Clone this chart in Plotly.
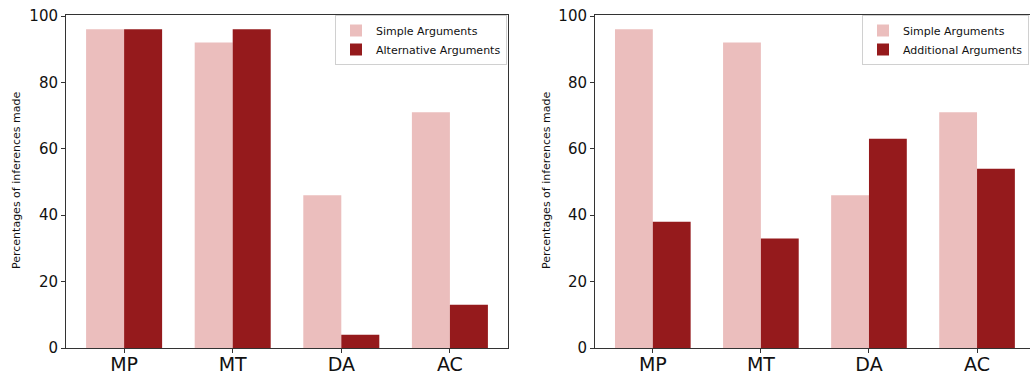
import plotly.graph_objects as go

categories = ["MP", "MT", "DA", "AC"]
simple_left = [96, 92, 46, 71]
alternative = [96, 96, 4, 13]
simple_right = [96, 92, 46, 71]
additional = [38, 33, 63, 54]
y_ticks = [0, 20, 40, 60, 80, 100]

PINK = "#EBBEBD"
DARK = "#951A1C"
W, H = 1030, 376

def px_x(p):
    return p / W

def px_y(p):
    return 1 - p / H

fig = go.Figure()
fig.add_trace(go.Bar(x=categories, y=simple_left, name="Simple Arguments", marker_color=PINK,
                     marker_line_width=0, xaxis="x", yaxis="y", legend="legend"))
fig.add_trace(go.Bar(x=categories, y=alternative, name="Alternative Arguments", marker_color=DARK,
                     marker_line_width=0, xaxis="x", yaxis="y", legend="legend"))
fig.add_trace(go.Bar(x=categories, y=simple_right, name="Simple Arguments", marker_color=PINK,
                     marker_line_width=0, xaxis="x2", yaxis="y2", legend="legend2"))
fig.add_trace(go.Bar(x=categories, y=additional, name="Additional Arguments", marker_color=DARK,
                     marker_line_width=0, xaxis="x2", yaxis="y2", legend="legend2"))

font = "DejaVu Sans"
xcommon = dict(type="category", showgrid=False, zeroline=False, showline=True, linecolor="#333",
               linewidth=1, ticks="outside", ticklen=4, tickcolor="#333", automargin=False,
               ticklabelstandoff=-5,
               tickfont=dict(family=font, size=19, color="#111"))
ycommon = dict(range=[0, 100.3], tickvals=y_ticks, showgrid=False, zeroline=False, showline=True,
               linecolor="#333", linewidth=1, ticks="outside", ticklen=4, tickcolor="#333", automargin=False,
               tickfont=dict(family=font, size=15, color="#111"))

legend_common = dict(xanchor="right", yanchor="top", bgcolor="rgba(255,255,255,0.8)",
                     bordercolor="#d0d0d0", borderwidth=1, tracegroupgap=0, itemwidth=30,
                     font=dict(family=font, size=11, color="#111"))

fig.update_layout(
    width=W, height=H, margin=dict(l=0, r=0, t=0, b=0, pad=0, autoexpand=False),
    paper_bgcolor="white", plot_bgcolor="white",
    barmode="group", bargap=0.3, bargroupgap=0,
    xaxis=dict(**xcommon, domain=[px_x(66), px_x(508)], range=[-0.535, 3.535], mirror=True, anchor="y"),
    yaxis=dict(**ycommon, domain=[px_y(348), px_y(15)], mirror=True, anchor="x"),
    xaxis2=dict(**xcommon, domain=[px_x(595), 1.0], range=[-0.535, 3.49], mirror=True, anchor="y2"),
    yaxis2=dict(**ycommon, domain=[px_y(348), px_y(15)], mirror=False, anchor="x2"),
    legend=dict(x=px_x(507), y=px_y(15), **legend_common),
    legend2=dict(x=px_x(1029), y=px_y(15), **legend_common),
    annotations=[
        dict(text="Percentages of inferences made", x=px_x(16), y=px_y(181), xref="paper", yref="paper",
             xanchor="center", yanchor="middle",
             textangle=-90, showarrow=False, font=dict(family=font, size=11, color="#111")),
        dict(text="Percentages of inferences made", x=px_x(546), y=px_y(181), xref="paper", yref="paper",
             xanchor="center", yanchor="middle",
             textangle=-90, showarrow=False, font=dict(family=font, size=11, color="#111")),
    ],
)

fig.write_html("out.html", config={"displayModeBar": False},
               post_script="document.body.style.margin='0';document.body.style.overflow='hidden';")
